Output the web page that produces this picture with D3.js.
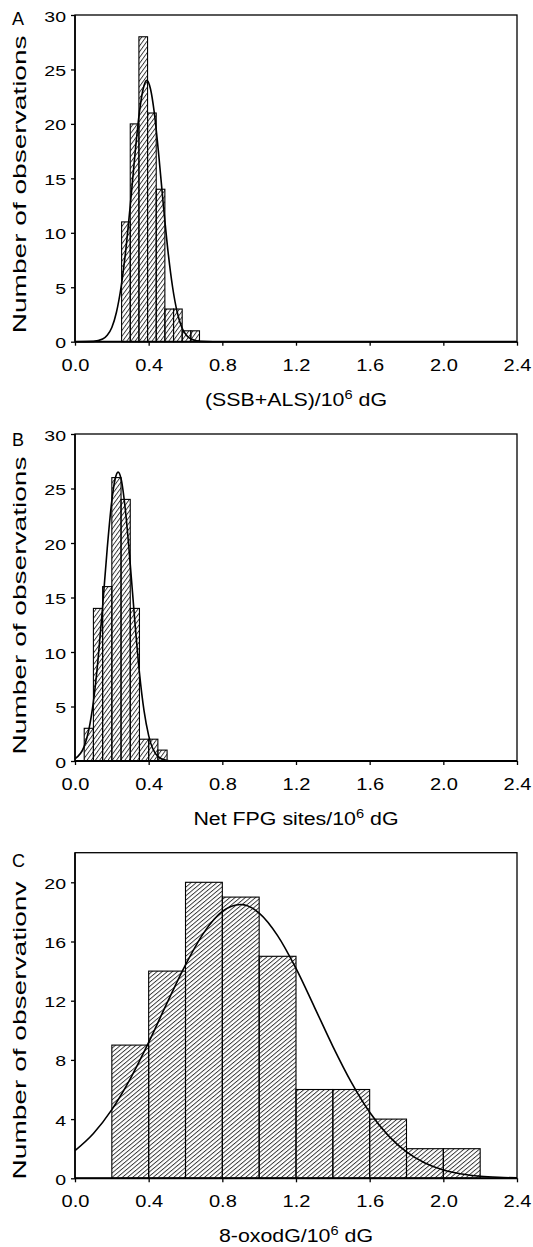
<!DOCTYPE html>
<html>
<head>
<meta charset="utf-8">
<script src="https://cdn.jsdelivr.net/npm/d3@7"></script>
<style>
  body { margin: 0; background: #fff; }
  text { font-family: "Liberation Sans", Arial, sans-serif; fill: #000; }
</style>
</head>
<body>
<svg id="chart"></svg>
<script>
// Shared x axis ticks
const xTicks = [0, 0.4, 0.8, 1.2, 1.6, 2.0, 2.4];
const yTicksAB = [0, 5, 10, 15, 20, 25, 30];
const yTicksC = [0, 4, 8, 12, 16, 20];

// Panel A - (SSB+ALS)
const aBinLeft = [0.253, 0.300, 0.347, 0.394, 0.441, 0.488, 0.535, 0.582, 0.629];
const aCounts = [11, 20, 28, 21, 14, 3, 3, 1, 1];
const aBinWidth = 0.047;
const aCurveX = [0, 0.1, 0.15, 0.175, 0.2, 0.225, 0.25, 0.275, 0.3, 0.325, 0.35, 0.37, 0.39, 0.41, 0.43, 0.455, 0.48, 0.505, 0.53, 0.555, 0.58, 0.605, 0.63, 0.68, 0.75, 1.0, 1.5, 2.0, 2.4];
const aCurveY = [0, 0.03, 0.24, 0.59, 1.3, 2.7, 5.0, 8.3, 12.5, 17.1, 21.1, 23.2, 24, 23.2, 21.1, 17.1, 12.5, 8.3, 5.0, 2.7, 1.3, 0.59, 0.24, 0.03, 0, 0, 0, 0, 0];

// Panel B - net FPG sites
const bBinLeft = [0.05, 0.10, 0.15, 0.20, 0.25, 0.30, 0.35, 0.40, 0.45];
const bCounts = [3, 14, 16, 26, 24, 14, 2, 2, 1];
const bBinWidth = 0.05;
const bCurveX = [0, 0.05, 0.075, 0.1, 0.125, 0.15, 0.175, 0.2, 0.217, 0.234, 0.25, 0.275, 0.3, 0.325, 0.35, 0.375, 0.4, 0.45, 0.5, 0.55, 1.0, 1.5, 2.0, 2.4];
const bCurveY = [0.21, 1.34, 2.85, 5.44, 9.29, 14.2, 19.5, 23.9, 25.8, 26.5, 25.9, 22.8, 18.05, 12.8, 8.08, 4.59, 2.33, 0.43, 0.05, 0, 0, 0, 0, 0];

// Panel C - 8-oxodG
const cBinLeft = [0.2, 0.4, 0.6, 0.8, 1.0, 1.2, 1.4, 1.6, 1.8, 2.0];
const cCounts = [9, 14, 20, 19, 15, 6, 6, 4, 2, 2];
const cBinWidth = 0.2;
const cCurveX = [0, 0.1, 0.2, 0.3, 0.4, 0.5, 0.6, 0.7, 0.8, 0.9, 1.0, 1.1, 1.2, 1.3, 1.4, 1.5, 1.6, 1.7, 1.8, 1.9, 2.0, 2.1, 2.2, 2.3, 2.4];
const cCurveY = [1.87, 3.03, 4.64, 6.72, 9.18, 11.85, 14.42, 16.6, 18.03, 18.5, 17.92, 16.4, 14.18, 11.57, 8.92, 6.5, 4.46, 2.9, 1.78, 1.03, 0.56, 0.29, 0.14, 0.065, 0.03];

const W = 533, H = 1247;
const svg = d3.select("#chart").attr("width", W).attr("height", H);

// hatch patterns
const defs = svg.append("defs");
function hatch(id, angle, gap) {
  defs.append("pattern")
    .attr("id", id)
    .attr("patternUnits", "userSpaceOnUse")
    .attr("width", gap)
    .attr("height", 10)
    .attr("patternTransform", `rotate(${angle})`)
    .append("line")
    .attr("x1", 0.5).attr("y1", 0)
    .attr("x2", 0.5).attr("y2", 10)
    .attr("stroke", "#000")
    .attr("stroke-width", 0.8);
}
hatch("hatchAB", 36, 3.4);
hatch("hatchC", 50, 3.3);

// widen text horizontally to match the original proportions
function stretch(sel, k) {
  sel.each(function () {
    const w = this.getComputedTextLength();
    d3.select(this).attr("textLength", w * k).attr("lengthAdjust", "spacingAndGlyphs");
  });
}

const x = d3.scaleLinear().domain([0, 2.4]).range([75, 517]);

const panels = [
  { letter: "A", letterY: 25, titleShift: 6, top: 15, bottom: 341.7, yMax: 30, yTicks: yTicksAB, left: aBinLeft, counts: aCounts, bw: aBinWidth,
    cx: aCurveX, cy: aCurveY, xTitle: ["(SSB+ALS)/10", "6", " dG"], yTitle: "Number of observations", hatch: "hatchAB" },
  { letter: "B", letterY: 446, titleShift: 8, top: 434, bottom: 761, yMax: 30, yTicks: yTicksAB, left: bBinLeft, counts: bCounts, bw: bBinWidth,
    cx: bCurveX, cy: bCurveY, xTitle: ["Net FPG sites/10", "6", " dG"], yTitle: "Number of observations", hatch: "hatchAB" },
  { letter: "C", letterY: 867, titleShift: 15, top: 852.7, bottom: 1178.3, yMax: 22, yTicks: yTicksC, left: cBinLeft, counts: cCounts, bw: cBinWidth,
    cx: cCurveX, cy: cCurveY, xTitle: ["8-oxodG/10", "6", " dG"], yTitle: "Number of observationv", hatch: "hatchC" }
];

panels.forEach((p) => {
  const y = d3.scaleLinear().domain([0, p.yMax]).range([p.bottom, p.top]);
  const g = svg.append("g");

  // bars
  const bins = p.left.map((l, i) => ({ x0: l, x1: l + p.bw, n: p.counts[i] }));
  g.selectAll(".bar")
    .data(bins)
    .enter()
    .append("rect")
    .attr("class", "bar")
    .attr("x", (d) => x(d.x0))
    .attr("y", (d) => y(d.n))
    .attr("width", (d) => x(d.x1) - x(d.x0))
    .attr("height", (d) => y(0) - y(d.n))
    .attr("fill", `url(#${p.hatch})`)
    .attr("stroke", "#000")
    .attr("stroke-width", 1.1);

  // fitted curve
  const pts = p.cx.map((v, i) => [v, p.cy[i]]);
  g.append("path")
    .datum(pts)
    .attr("fill", "none")
    .attr("stroke", "#000")
    .attr("stroke-width", 1.6)
    .attr("d", d3.line().x((d) => x(d[0])).y((d) => y(d[1])).curve(d3.curveMonotoneX));

  // frame
  g.append("rect")
    .attr("x", 75).attr("y", p.top)
    .attr("width", 517 - 75).attr("height", p.bottom - p.top)
    .attr("fill", "none").attr("stroke", "#000").attr("stroke-width", 1.3);
  g.append("line").attr("x1", 75).attr("x2", 517).attr("y1", p.bottom).attr("y2", p.bottom)
    .attr("stroke", "#000").attr("stroke-width", 2);
  g.append("line").attr("x1", 75).attr("x2", 75).attr("y1", p.top).attr("y2", p.bottom)
    .attr("stroke", "#000").attr("stroke-width", 1.6);

  // axes
  const xa = g.append("g")
    .attr("transform", `translate(0,${p.bottom})`)
    .call(d3.axisBottom(x).tickValues(xTicks).tickFormat(d3.format(".1f")).tickSize(4).tickPadding(13));
  xa.select(".domain").remove();
  xa.selectAll("line").attr("stroke-width", 1.3);
  xa.selectAll("text").style("font-size", "17px").attr("font-family", null);
  stretch(xa.selectAll("text"), 1.18);

  const ya = g.append("g")
    .attr("transform", "translate(75,0)")
    .call(d3.axisLeft(y).tickValues(p.yTicks).tickSize(4).tickPadding(5));
  ya.select(".domain").remove();
  ya.selectAll("line").attr("stroke-width", 1.3);
  ya.selectAll("text").style("font-size", "15px").attr("dy", "0.4em");
  stretch(ya.selectAll("text"), 1.3);

  // x title with superscript
  const xt = g.append("text")
    .attr("x", 296).attr("y", p.bottom + 64)
    .attr("text-anchor", "middle")
    .style("font-size", "17.5px");
  xt.append("tspan").text(p.xTitle[0]);
  xt.append("tspan").attr("dy", -7).style("font-size", "12px").text(p.xTitle[1]);
  xt.append("tspan").attr("dy", 7).text(p.xTitle[2]);
  stretch(xt, 1.22);

  // y title
  g.append("text")
    .attr("transform", `translate(26,${(p.top + p.bottom) / 2 + p.titleShift}) rotate(-90)`)
    .attr("text-anchor", "middle")
    .style("font-size", "17.5px")
    .attr("textLength", 298)
    .attr("lengthAdjust", "spacingAndGlyphs")
    .text(p.yTitle);

  // panel letter
  g.append("text")
    .attr("x", 12).attr("y", p.letterY)
    .style("font-size", "18px")
    .text(p.letter);
});
</script>
</body>
</html>
